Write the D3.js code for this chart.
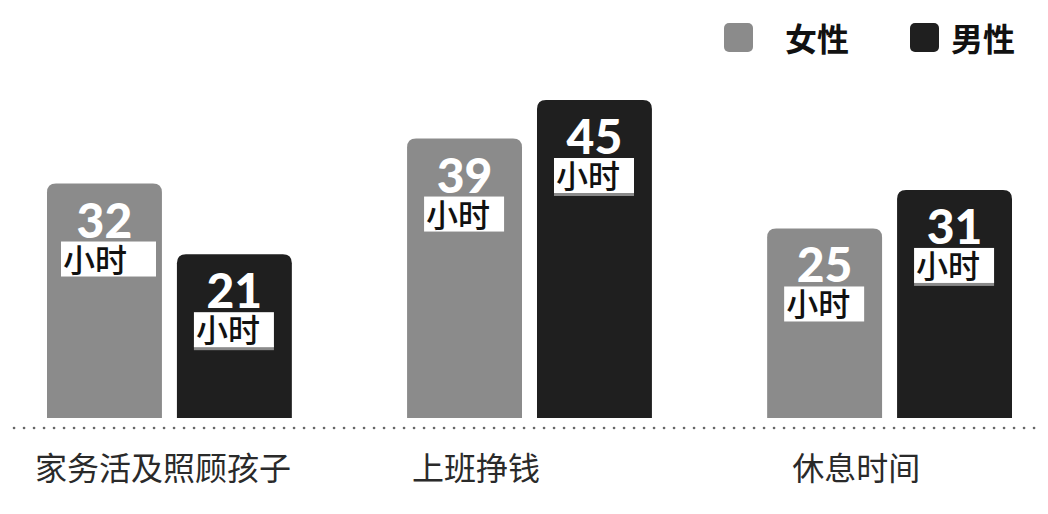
<!DOCTYPE html>
<html>
<head>
<meta charset="utf-8">
<script src="https://cdn.jsdelivr.net/npm/d3@7"></script>
<style>
  html, body { margin: 0; padding: 0; background: #fff; }
  svg { display: block; }
</style>
</head>
<body>
<script>
// data
const categories = ["家务活及照顾孩子", "上班挣钱", "休息时间"];
const seriesNames = ["女性", "男性"];
const femaleHours = [32, 39, 25];
const maleHours = [21, 45, 31];
const unitLabel = "小时";

const colors = { "女性": "#8b8b8b", "男性": "#1f1f1f" };

const W = 1048, H = 514;
const baseY = 418;

const svg = d3.select("body").append("svg")
    .attr("width", W)
    .attr("height", H);

const rows = [];
categories.forEach((c, i) => {
    rows.push({ cat: c, series: "女性", value: femaleHours[i] });
    rows.push({ cat: c, series: "男性", value: maleHours[i] });
});

const x0 = d3.scaleBand()
    .domain(categories)
    .range([47, 1012])
    .paddingInner(0.32);

const x1 = d3.scaleBand()
    .domain(seriesNames)
    .range([0, x0.bandwidth()])
    .paddingInner(0.1154);

const y = d3.scaleLinear()
    .domain([-4.5, 45])
    .range([baseY, 100]);

// bar with rounded top corners
function topRounded(x, yTop, w, h, r) {
    return `M${x},${yTop + h}V${yTop + r}Q${x},${yTop} ${x + r},${yTop}` +
        `H${x + w - r}Q${x + w},${yTop} ${x + w},${yTop + r}V${yTop + h}Z`;
}

const bars = svg.append("g")
    .selectAll("g")
    .data(rows)
    .join("g")
    .attr("transform", (d) => `translate(${x0(d.cat) + x1(d.series)},0)`);

bars.append("path")
    .attr("d", (d) => topRounded(0, y(d.value), x1.bandwidth(), baseY - y(d.value), 9))
    .attr("fill", (d) => colors[d.series]);

bars.append("text")
    .attr("x", x1.bandwidth() / 2)
    .attr("y", (d) => y(d.value) + 54)
    .attr("text-anchor", "middle")
    .attr("font-family", "Lato, 'Open Sans', sans-serif")
    .attr("font-weight", 900)
    .attr("font-size", 48)
    .attr("fill", "#fff")
    .text((d) => d.value);

// the white "小时" tag under each number
const tagW = 80, tagH = 35;
bars.filter((d) => d.series === "男性")
    .append("rect")
    .attr("x", 17)
    .attr("y", (d) => y(d.value) + 58 + tagH - 2)
    .attr("width", tagW)
    .attr("height", 5)
    .attr("fill", "#8a8a8a");

bars.append("rect")
    .attr("x", (d, i) => (i === 0 ? 14 : 17))
    .attr("y", (d) => y(d.value) + 58)
    .attr("width", (d, i) => (i === 0 ? 95 : tagW))
    .attr("height", tagH)
    .attr("fill", "#fff");

bars.append("text")
    .attr("x", (d, i) => (i === 0 ? 16 : 19))
    .attr("y", (d) => y(d.value) + 58 + 30)
    .attr("font-family", "'Noto Sans CJK SC', sans-serif")
    .attr("font-weight", 500)
    .attr("font-size", 32)
    .attr("fill", "#111")
    .text(unitLabel);

// dotted baseline
svg.append("line")
    .attr("x1", 14)
    .attr("x2", 1042)
    .attr("y1", 428)
    .attr("y2", 428)
    .attr("stroke", "#666")
    .attr("stroke-width", 2.6)
    .attr("stroke-linecap", "round")
    .attr("stroke-dasharray", "0.1 9.9");

// category labels
svg.append("g")
    .selectAll("text")
    .data(categories)
    .join("text")
    .attr("x", (d, i) => x0(d) + [-12, 5, 25][i])
    .attr("y", 480)
    .attr("font-family", "'Noto Sans CJK SC', sans-serif")
    .attr("font-size", 32)
    .attr("fill", "#2a2a2a")
    .text((d) => d);

// legend
const legend = svg.append("g")
    .selectAll("g")
    .data(seriesNames)
    .join("g")
    .attr("transform", (d, i) => `translate(${[724, 910][i]},23)`);

legend.append("rect")
    .attr("width", 29)
    .attr("height", 29)
    .attr("rx", 5)
    .attr("fill", (d) => colors[d]);

legend.append("text")
    .attr("x", (d, i) => [61, 41][i])
    .attr("y", 28)
    .attr("font-family", "'Noto Sans CJK SC', sans-serif")
    .attr("font-weight", 700)
    .attr("font-size", 32)
    .attr("fill", "#111")
    .text((d) => d);
</script>
</body>
</html>
